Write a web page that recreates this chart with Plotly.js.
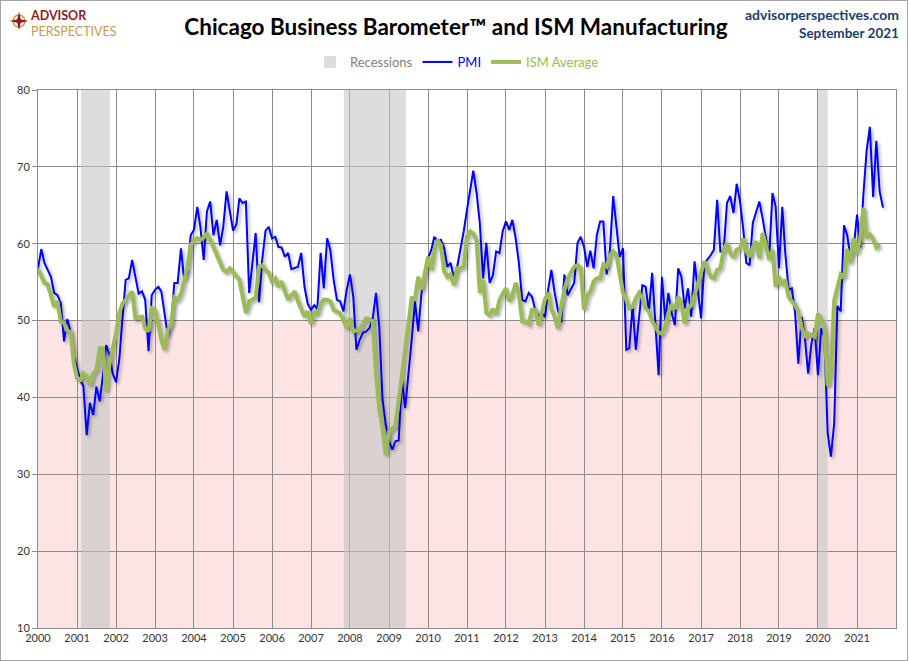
<!DOCTYPE html>
<html>
<head>
<meta charset="utf-8">
<script src="https://cdn.plot.ly/plotly-3.0.1.min.js"></script>
<style>
  body { margin: 0; background: #fff; }
  #chart { width: 906px; height: 659px; border: 1px solid #a6a6a6; }
  /* soft drop shadow under the data lines, like the Excel original */
  #chart .scatterlayer .js-line { filter: drop-shadow(2px 2px 1.5px rgba(0,0,0,0.3)); }
</style>
</head>
<body>
<div id="chart"></div>
<script>
//monthly values, Jan 2000 onwards
var pmiValues = [
  56.8, 59.3, 57.5, 56.6, 55.7, 53.6, 53.3, 52.3, 47.3, 50.2, 48.6, 45.4, //2000
  43.8, 42.2, 41.5, 35.1, 39.3, 37.7, 41.4, 39.5, 43.0, 46.8, 45.5, 43.1, //2001
  42.0, 45.0, 50.1, 55.3, 55.5, 57.9, 55.7, 53.5, 53.8, 52.7, 46.0, 53.3, //2002
  54.0, 54.4, 53.8, 50.5, 48.0, 49.6, 54.9, 54.9, 59.4, 55.3, 56.2, 61.1, //2003
  61.8, 64.8, 62.2, 57.9, 64.2, 65.5, 61.1, 63.1, 59.8, 62.2, 66.8, 64.3, //2004
  61.7, 62.5, 65.9, 65.3, 65.5, 53.6, 57.9, 61.4, 52.4, 57.9, 61.7, 62.2, //2005
  60.7, 60.9, 59.6, 59.5, 58.3, 58.8, 56.7, 56.8, 57.0, 58.8, 54.4, 52.2, //2006
  51.4, 52.0, 51.5, 58.8, 54.2, 60.7, 59.2, 55.3, 52.7, 52.5, 51.2, 54.0, //2007
  56.0, 53.1, 46.2, 47.5, 48.4, 48.6, 49.0, 50.3, 53.6, 49.2, 39.7, 36.5, //2008
  34.3, 33.2, 34.3, 34.4, 42.3, 38.6, 42.7, 47.5, 52.5, 48.6, 53.6, 55.7, //2009
  58.1, 59.2, 60.9, 60.3, 60.5, 59.4, 57.0, 57.5, 55.5, 57.0, 59.2, 61.6, //2010
  64.4, 67.2, 69.5, 66.6, 62.7, 55.5, 60.1, 54.9, 55.9, 59.0, 58.8, 61.6, //2011
  62.9, 61.8, 63.1, 60.7, 57.5, 52.7, 52.5, 53.6, 53.1, 51.4, 50.5, 51.0, //2012
  50.5, 54.2, 56.6, 53.6, 51.4, 49.8, 56.0, 53.3, 54.2, 54.9, 60.1, 60.9, //2013
  59.6, 57.0, 59.1, 56.8, 61.1, 62.9, 62.9, 56.0, 59.2, 66.2, 62.2, 58.3, //2014
  59.4, 46.2, 46.4, 52.0, 46.2, 50.5, 54.6, 54.4, 51.2, 56.2, 48.7, 42.9, //2015
  55.7, 50.0, 53.6, 51.0, 49.4, 56.8, 55.7, 51.6, 54.2, 50.5, 57.7, 54.2, //2016
  50.3, 57.4, 57.9, 58.5, 59.2, 65.7, 59.0, 59.0, 65.3, 66.2, 64.0, 67.8, //2017
  65.5, 61.8, 57.5, 57.2, 62.7, 64.2, 65.5, 63.3, 60.6, 58.2, 66.6, 64.8, //2018
  56.8, 64.8, 58.8, 54.0, 54.2, 51.0, 44.4, 50.5, 47.7, 43.1, 47.0, 49.0, //2019
  42.9, 49.0, 47.8, 35.4, 32.3, 36.6, 51.9, 51.2, 62.4, 61.1, 58.2, 59.5, //2020
  63.8, 59.5, 66.3, 72.1, 75.2, 66.1, 73.4, 66.8, 64.7                    //2021
];

var ismValues = [
  56.7, 55.8, 54.9, 54.7, 53.2, 51.8, 52.5, 49.9, 49.7, 48.7, 48.5, 44.5, //2000
  42.5, 42.3, 43.1, 42.7, 41.6, 43.1, 43.6, 46.4, 46.4, 40.8, 44.4, 46.2, //2001
  48.4, 51.0, 52.2, 52.7, 53.2, 53.8, 50.3, 50.4, 50.5, 49.0, 48.6, 51.6, //2002
  51.4, 49.5, 47.5, 46.2, 48.8, 49.5, 53.0, 52.7, 53.5, 55.2, 57.0, 59.8, //2003
  60.5, 60.7, 60.5, 60.8, 61.3, 60.5, 59.5, 58.5, 57.5, 56.6, 56.3, 56.8, //2004
  56.3, 55.8, 55.3, 53.1, 51.0, 52.5, 52.7, 53.0, 57.0, 57.2, 56.6, 56.2, //2005
  55.1, 55.5, 54.4, 55.1, 53.8, 52.7, 53.3, 53.8, 52.5, 51.6, 50.5, 51.2, //2006
  49.6, 51.2, 50.7, 52.2, 52.7, 52.7, 52.5, 51.4, 51.2, 50.9, 50.1, 49.0, //2007
  50.3, 48.6, 48.7, 48.8, 49.6, 50.3, 50.2, 49.9, 43.1, 38.6, 36.0, 32.5, //2008
  35.6, 36.0, 36.3, 39.5, 42.8, 45.3, 49.0, 52.9, 52.8, 55.7, 54.0, 56.2, //2009
  58.3, 56.6, 59.2, 60.5, 59.8, 56.4, 55.7, 56.0, 54.6, 56.8, 56.8, 57.0, //2010
  60.9, 61.6, 61.3, 60.4, 53.6, 55.3, 51.0, 50.7, 51.5, 50.8, 52.7, 53.5, //2011
  54.2, 52.5, 53.3, 54.9, 53.5, 49.9, 49.9, 49.6, 51.4, 51.4, 49.4, 51.0, //2012
  52.8, 53.6, 51.5, 50.5, 49.0, 51.8, 54.0, 55.5, 56.2, 57.0, 57.2, 56.8, //2013
  51.4, 53.3, 53.8, 55.1, 55.5, 55.5, 57.3, 57.0, 58.5, 59.0, 58.5, 55.7, //2014
  53.6, 52.7, 51.6, 51.8, 52.9, 53.6, 52.9, 51.6, 51.2, 50.0, 49.2, 48.4, //2015
  48.3, 49.2, 51.0, 52.0, 51.5, 53.1, 52.2, 49.6, 51.5, 52.0, 53.3, 54.7, //2016
  56.6, 57.7, 56.8, 55.7, 55.5, 56.6, 56.8, 59.2, 60.1, 58.8, 58.2, 59.2, //2017
  59.4, 60.7, 59.0, 58.3, 59.6, 60.3, 58.1, 61.4, 59.8, 57.9, 59.2, 54.4, //2018
  55.7, 54.6, 55.3, 53.1, 52.5, 52.0, 51.2, 49.1, 47.8, 48.3, 48.1, 47.9, //2019
  50.9, 50.1, 49.1, 41.5, 43.1, 52.6, 54.2, 56.0, 55.6, 59.3, 57.5, 60.7, //2020
  58.7, 60.8, 64.7, 60.7, 61.2, 60.6, 59.5, 59.9                          //2021
];

//recession bands as drawn (start / end dates)
var recessionStarts = ["2001-02-07", "2007-11-05", "2020-01-03"];
var recessionEnds = ["2001-11-05", "2009-06-08", "2020-04-02"];

/*
helpers
*/
function monthDates(n) {
  var out = [];
  for (var i = 0; i < n; i++) {
    var y = 2000 + Math.floor(i / 12);
    var m = (i % 12) + 1;
    out.push(y + "-" + (m < 10 ? "0" + m : m) + "-01");
  }
  return out;
}

function toMs(s) {
  var p = s.split("-");
  return Date.UTC(+p[0], +p[1] - 1, +p[2]);
}

//plot area in page pixels (used to place the header texts)
var L = 37, R = 11, T = 89, B = 32, W = 906, H = 659;
function px2x(px) { return (px - 1 - L) / (W - L - R); }
function px2y(py) { return (H - B - (py - 1)) / (H - T - B); }

var recMid = [], recWidth = [], recHeight = [], recBase = [];
for (var i = 0; i < recessionStarts.length; i++) {
  var a = toMs(recessionStarts[i]), b = toMs(recessionEnds[i]);
  recMid.push((a + b) / 2);
  recWidth.push(b - a);
  recHeight.push(70);
  recBase.push(10);
}

var fontFam = "Lato, 'Liberation Sans', sans-serif";

var data = [
  {
    type: "bar",
    name: "Recessions",
    x: recMid,
    y: recHeight,
    base: recBase,
    width: recWidth,
    marker: { color: "rgba(196,196,196,0.58)", line: { width: 0 } },
    hoverinfo: "skip",
  },
  {
    type: "scatter",
    mode: "lines",
    name: "PMI",
    x: monthDates(pmiValues.length),
    y: pmiValues,
    line: { color: "#0000ff", width: 2 },
  },
  {
    type: "scatter",
    mode: "lines",
    name: "ISM Average",
    x: monthDates(ismValues.length),
    y: ismValues,
    line: { color: "#9bbb59", width: 4 },
  },
];

var layout = {
  width: W,
  height: H,
  margin: { l: L, r: R, t: T, b: B },
  paper_bgcolor: "#ffffff",
  plot_bgcolor: "#ffffff",
  font: { family: fontFam, size: 11, color: "#333333" },
  showlegend: true,
  barmode: "overlay",
  title: {
    text: "<b>Chicago Business Barometer™ and ISM Manufacturing</b>",
    font: { family: fontFam, size: 22.5, color: "#000000" },
    x: 455 / W,
    xanchor: "center",
    y: 1 - 26 / H,
    yanchor: "middle",
  },
  legend: {
    orientation: "h",
    x: px2x(457),
    xanchor: "center",
    y: px2y(62),
    yanchor: "middle",
    font: { family: fontFam, size: 13, color: "#808080" },
    bgcolor: "rgba(0,0,0,0)",
    itemwidth: 30,
  },
  xaxis: {
    type: "date",
    range: ["2000-01-01", "2022-01-01"],
    dtick: "M12",
    tick0: "2000-01-01",
    tickformat: "%Y",
    showgrid: true,
    gridcolor: "#8c8c8c",
    gridwidth: 1,
    showline: true,
    linecolor: "#8c8c8c",
    mirror: true,
    ticks: "",
    zeroline: false,
    tickfont: { family: fontFam, size: 11, color: "#333333" },
  },
  yaxis: {
    range: [10, 80],
    dtick: 10,
    showgrid: true,
    gridcolor: "#8c8c8c",
    gridwidth: 1,
    showline: true,
    linecolor: "#8c8c8c",
    mirror: true,
    ticks: "outside",
    ticklen: 5,
    tickcolor: "#8c8c8c",
    zeroline: false,
    tickfont: { family: fontFam, size: 11, color: "#333333" },
  },
  shapes: [
    //contraction zone below 50
    {
      type: "rect",
      xref: "paper",
      yref: "y",
      x0: 0,
      x1: 1,
      y0: 10,
      y1: 50,
      fillcolor: "#fde3e3",
      line: { width: 0 },
      layer: "below",
    },
  ],
  annotations: [
    {
      //two-line logo word mark in one text block
      xref: "paper", yref: "paper",
      x: px2x(29), y: px2y(23),
      xanchor: "left", yanchor: "middle",
      align: "left",
      text:
        "<b><span style='color:#8b1d1d'>ADVISOR</span></b><br>" +
        "<span style='color:#c49a52'>PERSPECTIVES</span>",
      showarrow: false,
      borderpad: 0,
      font: { family: fontFam, size: 12.5, color: "#8b1d1d" },
    },
    {
      xref: "paper", yref: "paper",
      x: px2x(901), y: px2y(14),
      xanchor: "right", yanchor: "middle",
      text: "<b>advisorperspectives.com</b>",
      showarrow: false,
      font: { family: fontFam, size: 14, color: "#1f3d6e" },
    },
    {
      xref: "paper", yref: "paper",
      x: px2x(901), y: px2y(33),
      xanchor: "right", yanchor: "middle",
      text: "<b>September 2021</b>",
      showarrow: false,
      font: { family: fontFam, size: 13.5, color: "#1f3d6e" },
    },
  ],
  images: [
    {
      //little compass mark of the logo
      source:
        "data:image/svg+xml;utf8," +
        encodeURIComponent(
          "<svg xmlns='http://www.w3.org/2000/svg' width='40' height='40' viewBox='0 0 40 40'>" +
            "<circle cx='20' cy='20' r='12' fill='none' stroke='#c49a52' stroke-width='3'/>" +
            "<path d='M20 1 L23.5 16.5 L39 20 L23.5 23.5 L20 39 L16.5 23.5 L1 20 L16.5 16.5 Z' fill='#8b1d1d'/>" +
            "</svg>"
        ),
      xref: "paper",
      yref: "paper",
      x: px2x(9),
      y: px2y(11),
      sizex: 20 / (W - L - R),
      sizey: 20 / (H - T - B),
      xanchor: "left",
      yanchor: "top",
      sizing: "stretch",
      layer: "above",
    },
  ],
};

var legendColors = ["#808080", "#0000ff", "#92c050"];

Plotly.newPlot("chart", data, layout, { displayModeBar: false, staticPlot: true }).then(function () {
  //legend texts take the colour of their series
  var texts = document.querySelectorAll("#chart .legendtext");
  for (var i = 0; i < texts.length; i++) {
    texts[i].style.fill = legendColors[i];
  }
});
</script>
</body>
</html>
